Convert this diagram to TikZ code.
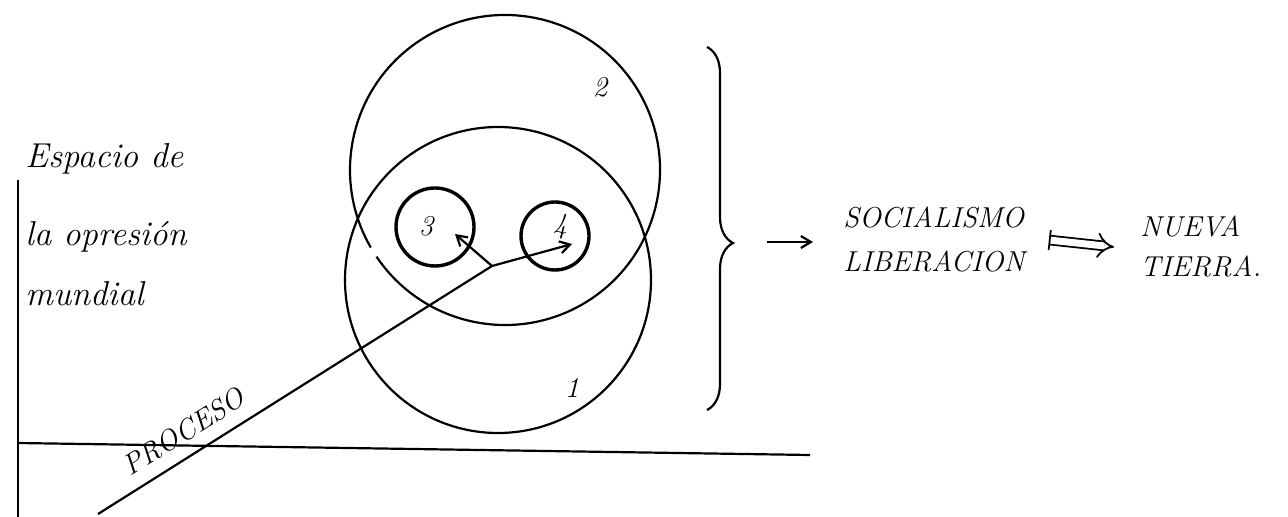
\documentclass[tikz,border=0pt]{standalone}
\usepackage{tikz}
\usepackage{amsmath}
\usetikzlibrary{arrows.meta, positioning, decorations.pathreplacing, calc}

\begin{document}
\begin{tikzpicture}[
  x=0.5pt, y=-0.5pt,
  ring/.style={circle, draw, line width=1.1pt, inner sep=0pt, outer sep=0pt},
  smallring/.style={circle, draw, line width=1.7pt, inner sep=0pt, outer sep=0pt},
  numlbl/.style={font=\Large\itshape, inner sep=0pt},
  axis/.style={line width=1.1pt},
  arrow/.style={-{Straight Barb[length=5pt,width=6pt]}, line width=1.1pt},
  hand/.style={font=\LARGE\itshape, align=left, inner sep=0pt},
  caps/.style={font=\Large\itshape, align=left, inner sep=0pt}
]
\useasboundingbox (0,0) rectangle (1288,517);

% axes
\coordinate (ytop) at (18,180);
\coordinate (ybot) at (18,517);
\coordinate (xleft) at (18,443);
\coordinate (xright) at (810,455);
\draw[axis] (ytop) -- (ybot);
\draw[axis] (xleft) -- (xright);

\node[hand, anchor=north west] (espacio) at (25,143)
  {Espacio de\\[17pt] la opresión\\[8pt] mundial};

% circles
\node[ring, minimum size=153pt] (c1) at (498,280) {};
\node[circle, minimum size=155pt, inner sep=0pt, outer sep=0pt] (c2) at (505,170) {};
\draw[line width=1.1pt] (c2.214) arc[start angle=214, end angle=570, radius=77.5pt];
\node[smallring, minimum size=39pt] (c3) at (435,227) {};
\node[smallring, minimum size=34pt] (c4) at (555,236) {};

\node[numlbl] (n1) at (572,388) {1};
\node[numlbl] (n2) at (600,87) {2};
\node[numlbl] (n3) at (426,226) {3};
\node[numlbl] (n4) at (560,227) {4};

% proceso
\coordinate (p0) at (98,514);
\coordinate (j) at (492,266);
\coordinate (a3) at (455,234);
\coordinate (a4) at (572,244);
\draw[line width=1.1pt] (p0) -- node[pos=0.25, sloped, above=3pt, font=\Large\itshape]{PROCESO} (j);
\draw[arrow] (j) -- (a3);
\draw[arrow] (j) -- (a4);

% brace and result
\coordinate (btop) at (707,47);
\coordinate (bbot) at (707,410);
\draw[line width=1.1pt, decorate, decoration={brace, amplitude=13pt, aspect=0.54}] (btop) -- (bbot);
\coordinate (bt) at (733,242);

\node[caps, anchor=west] (soc) at (843,240) {SOCIALISMO\\[4pt] LIBERACION};
\node[caps, anchor=west] (nt) at (1140,247) {NUEVA\\[2pt] TIERRA.};

\draw[arrow] ([xshift=17pt]bt) -- ([xshift=-15pt]soc.west |- bt);
\draw[line width=0.9pt, double, double distance=3.5pt, {Bar[width=10pt]}-{Implies}]
  ([xshift=12pt]soc.east) -- ([xshift=-13pt]nt.west);
\end{tikzpicture}
\end{document}
